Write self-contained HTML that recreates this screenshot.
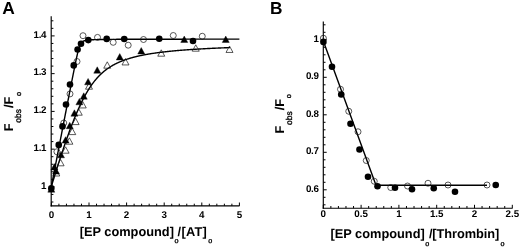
<!DOCTYPE html>
<html><head><meta charset="utf-8"><title>Figure</title>
<style>
html,body{margin:0;padding:0;background:#fff;}
svg{display:block;}
svg text{font-family:'Liberation Sans', Arial, Helvetica, sans-serif;font-weight:bold;fill:#000;text-rendering:geometricPrecision;}
</style></head><body>
<svg width="520" height="249" viewBox="0 0 520 249">
<rect width="520" height="249" fill="#fff"/>
<line x1="51.2" y1="16.2" x2="51.2" y2="206.475" stroke="#000" stroke-width="1.15"/>
<line x1="50.625" y1="205.9" x2="239.5" y2="205.9" stroke="#000" stroke-width="1.15"/>
<line x1="51.2" y1="202.0" x2="53.400000000000006" y2="202.0" stroke="#000" stroke-width="1.0"/>
<line x1="51.2" y1="194.45" x2="53.400000000000006" y2="194.45" stroke="#000" stroke-width="1.0"/>
<line x1="51.2" y1="186.9" x2="54.6" y2="186.9" stroke="#000" stroke-width="1.0"/>
<line x1="51.2" y1="179.35" x2="53.400000000000006" y2="179.35" stroke="#000" stroke-width="1.0"/>
<line x1="51.2" y1="171.8" x2="53.400000000000006" y2="171.8" stroke="#000" stroke-width="1.0"/>
<line x1="51.2" y1="164.25" x2="53.400000000000006" y2="164.25" stroke="#000" stroke-width="1.0"/>
<line x1="51.2" y1="156.7" x2="53.400000000000006" y2="156.7" stroke="#000" stroke-width="1.0"/>
<line x1="51.2" y1="149.15" x2="54.6" y2="149.15" stroke="#000" stroke-width="1.0"/>
<line x1="51.2" y1="141.6" x2="53.400000000000006" y2="141.6" stroke="#000" stroke-width="1.0"/>
<line x1="51.2" y1="134.05" x2="53.400000000000006" y2="134.05" stroke="#000" stroke-width="1.0"/>
<line x1="51.2" y1="126.5" x2="53.400000000000006" y2="126.5" stroke="#000" stroke-width="1.0"/>
<line x1="51.2" y1="118.95" x2="53.400000000000006" y2="118.95" stroke="#000" stroke-width="1.0"/>
<line x1="51.2" y1="111.4" x2="54.6" y2="111.4" stroke="#000" stroke-width="1.0"/>
<line x1="51.2" y1="103.85" x2="53.400000000000006" y2="103.85" stroke="#000" stroke-width="1.0"/>
<line x1="51.2" y1="96.3" x2="53.400000000000006" y2="96.3" stroke="#000" stroke-width="1.0"/>
<line x1="51.2" y1="88.75" x2="53.400000000000006" y2="88.75" stroke="#000" stroke-width="1.0"/>
<line x1="51.2" y1="81.2" x2="53.400000000000006" y2="81.2" stroke="#000" stroke-width="1.0"/>
<line x1="51.2" y1="73.65" x2="54.6" y2="73.65" stroke="#000" stroke-width="1.0"/>
<line x1="51.2" y1="66.1" x2="53.400000000000006" y2="66.1" stroke="#000" stroke-width="1.0"/>
<line x1="51.2" y1="58.55" x2="53.400000000000006" y2="58.55" stroke="#000" stroke-width="1.0"/>
<line x1="51.2" y1="51.0" x2="53.400000000000006" y2="51.0" stroke="#000" stroke-width="1.0"/>
<line x1="51.2" y1="43.45" x2="53.400000000000006" y2="43.45" stroke="#000" stroke-width="1.0"/>
<line x1="51.2" y1="35.9" x2="54.6" y2="35.9" stroke="#000" stroke-width="1.0"/>
<line x1="51.2" y1="28.35" x2="53.400000000000006" y2="28.35" stroke="#000" stroke-width="1.0"/>
<line x1="51.2" y1="20.8" x2="53.400000000000006" y2="20.8" stroke="#000" stroke-width="1.0"/>
<text x="46.2" y="188.5" font-size="9.8" text-anchor="end" letter-spacing="-0.35">1</text>
<text x="46.2" y="150.75" font-size="9.8" text-anchor="end" letter-spacing="-0.35">1.1</text>
<text x="46.2" y="113.0" font-size="9.8" text-anchor="end" letter-spacing="-0.35">1.2</text>
<text x="46.2" y="75.25" font-size="9.8" text-anchor="end" letter-spacing="-0.35">1.3</text>
<text x="46.2" y="37.5" font-size="9.8" text-anchor="end" letter-spacing="-0.35">1.4</text>
<line x1="51.4" y1="205.9" x2="51.4" y2="202.5" stroke="#000" stroke-width="1.0"/>
<line x1="58.92" y1="205.9" x2="58.92" y2="203.70000000000002" stroke="#000" stroke-width="1.0"/>
<line x1="66.44" y1="205.9" x2="66.44" y2="203.70000000000002" stroke="#000" stroke-width="1.0"/>
<line x1="73.96" y1="205.9" x2="73.96" y2="203.70000000000002" stroke="#000" stroke-width="1.0"/>
<line x1="81.48" y1="205.9" x2="81.48" y2="203.70000000000002" stroke="#000" stroke-width="1.0"/>
<line x1="89.0" y1="205.9" x2="89.0" y2="202.5" stroke="#000" stroke-width="1.0"/>
<line x1="96.52" y1="205.9" x2="96.52" y2="203.70000000000002" stroke="#000" stroke-width="1.0"/>
<line x1="104.04" y1="205.9" x2="104.04" y2="203.70000000000002" stroke="#000" stroke-width="1.0"/>
<line x1="111.56" y1="205.9" x2="111.56" y2="203.70000000000002" stroke="#000" stroke-width="1.0"/>
<line x1="119.08" y1="205.9" x2="119.08" y2="203.70000000000002" stroke="#000" stroke-width="1.0"/>
<line x1="126.6" y1="205.9" x2="126.6" y2="202.5" stroke="#000" stroke-width="1.0"/>
<line x1="134.12" y1="205.9" x2="134.12" y2="203.70000000000002" stroke="#000" stroke-width="1.0"/>
<line x1="141.64" y1="205.9" x2="141.64" y2="203.70000000000002" stroke="#000" stroke-width="1.0"/>
<line x1="149.16" y1="205.9" x2="149.16" y2="203.70000000000002" stroke="#000" stroke-width="1.0"/>
<line x1="156.68" y1="205.9" x2="156.68" y2="203.70000000000002" stroke="#000" stroke-width="1.0"/>
<line x1="164.2" y1="205.9" x2="164.2" y2="202.5" stroke="#000" stroke-width="1.0"/>
<line x1="171.72" y1="205.9" x2="171.72" y2="203.70000000000002" stroke="#000" stroke-width="1.0"/>
<line x1="179.24" y1="205.9" x2="179.24" y2="203.70000000000002" stroke="#000" stroke-width="1.0"/>
<line x1="186.76" y1="205.9" x2="186.76" y2="203.70000000000002" stroke="#000" stroke-width="1.0"/>
<line x1="194.28" y1="205.9" x2="194.28" y2="203.70000000000002" stroke="#000" stroke-width="1.0"/>
<line x1="201.8" y1="205.9" x2="201.8" y2="202.5" stroke="#000" stroke-width="1.0"/>
<line x1="209.32" y1="205.9" x2="209.32" y2="203.70000000000002" stroke="#000" stroke-width="1.0"/>
<line x1="216.84" y1="205.9" x2="216.84" y2="203.70000000000002" stroke="#000" stroke-width="1.0"/>
<line x1="224.36" y1="205.9" x2="224.36" y2="203.70000000000002" stroke="#000" stroke-width="1.0"/>
<line x1="231.88" y1="205.9" x2="231.88" y2="203.70000000000002" stroke="#000" stroke-width="1.0"/>
<line x1="239.4" y1="205.9" x2="239.4" y2="202.5" stroke="#000" stroke-width="1.0"/>
<text x="51.4" y="217.6" font-size="9.8" text-anchor="middle" >0</text>
<text x="89.0" y="217.6" font-size="9.8" text-anchor="middle" >1</text>
<text x="126.6" y="217.6" font-size="9.8" text-anchor="middle" >2</text>
<text x="164.2" y="217.6" font-size="9.8" text-anchor="middle" >3</text>
<text x="201.8" y="217.6" font-size="9.8" text-anchor="middle" >4</text>
<text x="239.4" y="217.6" font-size="9.8" text-anchor="middle" >5</text>
<path d="M51.40,186.30 L51.78,184.35 L52.15,182.41 L52.53,180.46 L52.90,178.52 L53.28,176.57 L53.66,174.63 L54.03,172.68 L54.41,170.74 L54.78,168.79 L55.16,166.85 L55.54,164.90 L55.91,162.96 L56.29,161.01 L56.66,159.07 L57.04,157.13 L57.42,155.18 L57.79,153.24 L58.17,151.30 L58.54,149.35 L58.92,147.41 L59.30,145.47 L59.67,143.53 L60.05,141.58 L60.42,139.64 L60.80,137.70 L61.18,135.76 L61.55,133.82 L61.93,131.88 L62.30,129.94 L62.68,128.00 L63.06,126.06 L63.43,124.12 L63.81,122.19 L64.18,120.25 L64.56,118.31 L64.94,116.38 L65.31,114.44 L65.69,112.51 L66.06,110.57 L66.44,108.64 L66.82,106.71 L67.19,104.78 L67.57,102.85 L67.94,100.92 L68.32,98.99 L68.70,97.07 L69.07,95.14 L69.45,93.22 L69.82,91.30 L70.20,89.38 L70.58,87.47 L70.95,85.55 L71.33,83.64 L71.70,81.74 L72.08,79.83 L72.46,77.94 L72.83,76.04 L73.21,74.16 L73.58,72.28 L73.96,70.41 L74.34,68.54 L74.71,66.69 L75.09,64.86 L75.46,63.03 L75.84,61.23 L76.22,59.45 L76.59,57.70 L76.97,55.99 L77.34,54.32 L77.72,52.71 L78.10,51.17 L78.47,49.71 L78.85,48.36 L79.22,47.12 L79.60,46.03 L79.98,45.08 L80.35,44.26 L80.73,43.58 L81.10,43.02 L81.48,42.56 L81.86,42.17 L82.23,41.85 L82.61,41.59 L82.98,41.36 L83.36,41.17 L83.74,41.01 L84.11,40.87 L84.49,40.74 L84.86,40.64 L85.24,40.54 L85.62,40.46 L85.99,40.38 L86.37,40.31 L86.74,40.25 L87.12,40.20 L87.50,40.15 L87.87,40.10 L88.25,40.06 L88.62,40.02 L89.00,39.98 L89.38,39.95 L89.75,39.92 L90.13,39.89 L90.50,39.86 L90.88,39.84 L91.26,39.81 L91.63,39.79 L92.01,39.77 L92.38,39.75 L92.76,39.73 L93.14,39.71 L93.51,39.70 L93.89,39.68 L94.26,39.67 L94.64,39.65 L95.02,39.64 L95.39,39.63 L95.77,39.61 L96.14,39.60 L96.52,39.59 L96.90,39.58 L97.27,39.57 L97.65,39.56 L98.02,39.55 L98.40,39.54 L98.78,39.53 L99.15,39.52 L99.53,39.52 L99.90,39.51 L100.28,39.50 L100.66,39.49 L101.03,39.49 L101.41,39.48 L101.78,39.47 L102.16,39.47 L102.54,39.46 L102.91,39.46 L103.29,39.45 L103.66,39.44 L104.04,39.44 L104.42,39.43 L104.79,39.43 L105.17,39.42 L105.54,39.42 L105.92,39.41 L106.30,39.41 L106.67,39.41 L107.05,39.40 L107.42,39.40 L107.80,39.39 L108.18,39.39 L108.55,39.39 L108.93,39.38 L109.30,39.38 L109.68,39.37 L110.06,39.37 L110.43,39.37 L110.81,39.36 L111.18,39.36 L111.56,39.36 L111.94,39.36 L112.31,39.35 L112.69,39.35 L113.06,39.35 L113.44,39.34 L113.82,39.34 L114.19,39.34 L114.57,39.34 L114.94,39.33 L115.32,39.33 L115.70,39.33 L116.07,39.33 L116.45,39.32 L116.82,39.32 L117.20,39.32 L117.58,39.32 L117.95,39.31 L118.33,39.31 L118.70,39.31 L119.08,39.31 L119.46,39.31 L119.83,39.30 L120.21,39.30 L120.58,39.30 L120.96,39.30 L121.34,39.30 L121.71,39.29 L122.09,39.29 L122.46,39.29 L122.84,39.29 L123.22,39.29 L123.59,39.29 L123.97,39.28 L124.34,39.28 L124.72,39.28 L125.10,39.28 L125.47,39.28 L125.85,39.28 L126.22,39.28 L126.60,39.27 L126.98,39.27 L127.35,39.27 L127.73,39.27 L128.10,39.27 L128.48,39.27 L128.86,39.27 L129.23,39.26 L129.61,39.26 L129.98,39.26 L130.36,39.26 L130.74,39.26 L131.11,39.26 L131.49,39.26 L131.86,39.26 L132.24,39.26 L132.62,39.25 L132.99,39.25 L133.37,39.25 L133.74,39.25 L134.12,39.25 L134.50,39.25 L134.87,39.25 L135.25,39.25 L135.62,39.25 L136.00,39.24 L136.38,39.24 L136.75,39.24 L137.13,39.24 L137.50,39.24 L137.88,39.24 L138.26,39.24 L138.63,39.24 L139.01,39.24 L139.38,39.24 L139.76,39.24 L140.14,39.23 L140.51,39.23 L140.89,39.23 L141.26,39.23 L141.64,39.23 L142.02,39.23 L142.39,39.23 L142.77,39.23 L143.14,39.23 L143.52,39.23 L143.90,39.23 L144.27,39.23 L144.65,39.22 L145.02,39.22 L145.40,39.22 L145.78,39.22 L146.15,39.22 L146.53,39.22 L146.90,39.22 L147.28,39.22 L147.66,39.22 L148.03,39.22 L148.41,39.22 L148.78,39.22 L149.16,39.22 L149.54,39.22 L149.91,39.22 L150.29,39.21 L150.66,39.21 L151.04,39.21 L151.42,39.21 L151.79,39.21 L152.17,39.21 L152.54,39.21 L152.92,39.21 L153.30,39.21 L153.67,39.21 L154.05,39.21 L154.42,39.21 L154.80,39.21 L155.18,39.21 L155.55,39.21 L155.93,39.21 L156.30,39.21 L156.68,39.20 L157.06,39.20 L157.43,39.20 L157.81,39.20 L158.18,39.20 L158.56,39.20 L158.94,39.20 L159.31,39.20 L159.69,39.20 L160.06,39.20 L160.44,39.20 L160.82,39.20 L161.19,39.20 L161.57,39.20 L161.94,39.20 L162.32,39.20 L162.70,39.20 L163.07,39.20 L163.45,39.20 L163.82,39.20 L164.20,39.19 L164.58,39.19 L164.95,39.19 L165.33,39.19 L165.70,39.19 L166.08,39.19 L166.46,39.19 L166.83,39.19 L167.21,39.19 L167.58,39.19 L167.96,39.19 L168.34,39.19 L168.71,39.19 L169.09,39.19 L169.46,39.19 L169.84,39.19 L170.22,39.19 L170.59,39.19 L170.97,39.19 L171.34,39.19 L171.72,39.19 L172.10,39.19 L172.47,39.19 L172.85,39.19 L173.22,39.19 L173.60,39.19 L173.98,39.18 L174.35,39.18 L174.73,39.18 L175.10,39.18 L175.48,39.18 L175.86,39.18 L176.23,39.18 L176.61,39.18 L176.98,39.18 L177.36,39.18 L177.74,39.18 L178.11,39.18 L178.49,39.18 L178.86,39.18 L179.24,39.18 L179.62,39.18 L179.99,39.18 L180.37,39.18 L180.74,39.18 L181.12,39.18 L181.50,39.18 L181.87,39.18 L182.25,39.18 L182.62,39.18 L183.00,39.18 L183.38,39.18 L183.75,39.18 L184.13,39.18 L184.50,39.18 L184.88,39.18 L185.26,39.18 L185.63,39.17 L186.01,39.17 L186.38,39.17 L186.76,39.17 L187.14,39.17 L187.51,39.17 L187.89,39.17 L188.26,39.17 L188.64,39.17 L189.02,39.17 L189.39,39.17 L189.77,39.17 L190.14,39.17 L190.52,39.17 L190.90,39.17 L191.27,39.17 L191.65,39.17 L192.02,39.17 L192.40,39.17 L192.78,39.17 L193.15,39.17 L193.53,39.17 L193.90,39.17 L194.28,39.17 L194.66,39.17 L195.03,39.17 L195.41,39.17 L195.78,39.17 L196.16,39.17 L196.54,39.17 L196.91,39.17 L197.29,39.17 L197.66,39.17 L198.04,39.17 L198.42,39.17 L198.79,39.17 L199.17,39.17 L199.54,39.17 L199.92,39.17 L200.30,39.17 L200.67,39.17 L201.05,39.16 L201.42,39.16 L201.80,39.16 L202.18,39.16 L202.55,39.16 L202.93,39.16 L203.30,39.16 L203.68,39.16 L204.06,39.16 L204.43,39.16 L204.81,39.16 L205.18,39.16 L205.56,39.16 L205.94,39.16 L206.31,39.16 L206.69,39.16 L207.06,39.16 L207.44,39.16 L207.82,39.16 L208.19,39.16 L208.57,39.16 L208.94,39.16 L209.32,39.16 L209.70,39.16 L210.07,39.16 L210.45,39.16 L210.82,39.16 L211.20,39.16 L211.58,39.16 L211.95,39.16 L212.33,39.16 L212.70,39.16 L213.08,39.16 L213.46,39.16 L213.83,39.16 L214.21,39.16 L214.58,39.16 L214.96,39.16 L215.34,39.16 L215.71,39.16 L216.09,39.16 L216.46,39.16 L216.84,39.16 L217.22,39.16 L217.59,39.16 L217.97,39.16 L218.34,39.16 L218.72,39.16 L219.10,39.16 L219.47,39.16 L219.85,39.16 L220.22,39.16 L220.60,39.16 L220.98,39.16 L221.35,39.16 L221.73,39.15 L222.10,39.15 L222.48,39.15 L222.86,39.15 L223.23,39.15 L223.61,39.15 L223.98,39.15 L224.36,39.15 L224.74,39.15 L225.11,39.15 L225.49,39.15 L225.86,39.15 L226.24,39.15 L226.62,39.15 L226.99,39.15 L227.37,39.15 L227.74,39.15 L228.12,39.15 L228.50,39.15 L228.87,39.15 L229.25,39.15 L229.62,39.15 L230.00,39.15 L230.38,39.15 L230.75,39.15 L231.13,39.15 L231.50,39.15 L231.88,39.15 L232.26,39.15 L232.63,39.15 L233.01,39.15 L233.38,39.15 L233.76,39.15 L234.14,39.15 L234.51,39.15 L234.89,39.15 L235.26,39.15 L235.64,39.15 L236.02,39.15 L236.39,39.15 L236.77,39.15 L237.14,39.15 L237.52,39.15 L237.90,39.15 L238.27,39.15 L238.65,39.15 L239.02,39.15 L239.40,39.15" fill="none" stroke="#000" stroke-width="1.4"/>
<path d="M51.40,186.30 L51.78,185.07 L52.15,183.83 L52.53,182.60 L52.90,181.38 L53.28,180.16 L53.66,178.94 L54.03,177.72 L54.41,176.50 L54.78,175.29 L55.16,174.09 L55.54,172.88 L55.91,171.68 L56.29,170.48 L56.66,169.29 L57.04,168.10 L57.42,166.91 L57.79,165.73 L58.17,164.55 L58.54,163.37 L58.92,162.20 L59.30,161.04 L59.67,159.87 L60.05,158.71 L60.42,157.56 L60.80,156.41 L61.18,155.26 L61.55,154.12 L61.93,152.98 L62.30,151.85 L62.68,150.72 L63.06,149.60 L63.43,148.48 L63.81,147.36 L64.18,146.26 L64.56,145.15 L64.94,144.06 L65.31,142.96 L65.69,141.88 L66.06,140.79 L66.44,139.72 L66.82,138.65 L67.19,137.58 L67.57,136.53 L67.94,135.47 L68.32,134.43 L68.70,133.39 L69.07,132.35 L69.45,131.33 L69.82,130.31 L70.20,129.29 L70.58,128.29 L70.95,127.29 L71.33,126.29 L71.70,125.31 L72.08,124.33 L72.46,123.35 L72.83,122.39 L73.21,121.43 L73.58,120.48 L73.96,119.54 L74.34,118.60 L74.71,117.68 L75.09,116.76 L75.46,115.85 L75.84,114.94 L76.22,114.05 L76.59,113.16 L76.97,112.29 L77.34,111.42 L77.72,110.55 L78.10,109.70 L78.47,108.86 L78.85,108.02 L79.22,107.19 L79.60,106.37 L79.98,105.56 L80.35,104.76 L80.73,103.97 L81.10,103.19 L81.48,102.41 L81.86,101.65 L82.23,100.89 L82.61,100.15 L82.98,99.41 L83.36,98.68 L83.74,97.96 L84.11,97.25 L84.49,96.55 L84.86,95.85 L85.24,95.17 L85.62,94.49 L85.99,93.83 L86.37,93.17 L86.74,92.52 L87.12,91.89 L87.50,91.26 L87.87,90.64 L88.25,90.02 L88.62,89.42 L89.00,88.83 L89.38,88.24 L89.75,87.66 L90.13,87.09 L90.50,86.53 L90.88,85.98 L91.26,85.44 L91.63,84.90 L92.01,84.38 L92.38,83.86 L92.76,83.35 L93.14,82.85 L93.51,82.35 L93.89,81.87 L94.26,81.39 L94.64,80.92 L95.02,80.45 L95.39,79.99 L95.77,79.55 L96.14,79.10 L96.52,78.67 L96.90,78.24 L97.27,77.82 L97.65,77.41 L98.02,77.00 L98.40,76.60 L98.78,76.21 L99.15,75.82 L99.53,75.44 L99.90,75.06 L100.28,74.70 L100.66,74.33 L101.03,73.98 L101.41,73.63 L101.78,73.28 L102.16,72.94 L102.54,72.61 L102.91,72.28 L103.29,71.96 L103.66,71.64 L104.04,71.33 L104.42,71.02 L104.79,70.72 L105.17,70.42 L105.54,70.13 L105.92,69.85 L106.30,69.56 L106.67,69.28 L107.05,69.01 L107.42,68.74 L107.80,68.48 L108.18,68.22 L108.55,67.96 L108.93,67.71 L109.30,67.46 L109.68,67.21 L110.06,66.97 L110.43,66.74 L110.81,66.51 L111.18,66.28 L111.56,66.05 L111.94,65.83 L112.31,65.61 L112.69,65.39 L113.06,65.18 L113.44,64.97 L113.82,64.77 L114.19,64.57 L114.57,64.37 L114.94,64.17 L115.32,63.98 L115.70,63.79 L116.07,63.60 L116.45,63.41 L116.82,63.23 L117.20,63.05 L117.58,62.88 L117.95,62.70 L118.33,62.53 L118.70,62.36 L119.08,62.19 L119.46,62.03 L119.83,61.87 L120.21,61.71 L120.58,61.55 L120.96,61.40 L121.34,61.24 L121.71,61.09 L122.09,60.94 L122.46,60.80 L122.84,60.65 L123.22,60.51 L123.59,60.37 L123.97,60.23 L124.34,60.09 L124.72,59.96 L125.10,59.83 L125.47,59.70 L125.85,59.57 L126.22,59.44 L126.60,59.31 L126.98,59.19 L127.35,59.06 L127.73,58.94 L128.10,58.82 L128.48,58.71 L128.86,58.59 L129.23,58.47 L129.61,58.36 L129.98,58.25 L130.36,58.14 L130.74,58.03 L131.11,57.92 L131.49,57.81 L131.86,57.71 L132.24,57.60 L132.62,57.50 L132.99,57.40 L133.37,57.30 L133.74,57.20 L134.12,57.10 L134.50,57.00 L134.87,56.91 L135.25,56.81 L135.62,56.72 L136.00,56.63 L136.38,56.54 L136.75,56.45 L137.13,56.36 L137.50,56.27 L137.88,56.18 L138.26,56.10 L138.63,56.01 L139.01,55.93 L139.38,55.85 L139.76,55.76 L140.14,55.68 L140.51,55.60 L140.89,55.52 L141.26,55.44 L141.64,55.37 L142.02,55.29 L142.39,55.21 L142.77,55.14 L143.14,55.06 L143.52,54.99 L143.90,54.92 L144.27,54.85 L144.65,54.77 L145.02,54.70 L145.40,54.63 L145.78,54.56 L146.15,54.50 L146.53,54.43 L146.90,54.36 L147.28,54.30 L147.66,54.23 L148.03,54.17 L148.41,54.10 L148.78,54.04 L149.16,53.97 L149.54,53.91 L149.91,53.85 L150.29,53.79 L150.66,53.73 L151.04,53.67 L151.42,53.61 L151.79,53.55 L152.17,53.49 L152.54,53.43 L152.92,53.38 L153.30,53.32 L153.67,53.27 L154.05,53.21 L154.42,53.16 L154.80,53.10 L155.18,53.05 L155.55,52.99 L155.93,52.94 L156.30,52.89 L156.68,52.84 L157.06,52.78 L157.43,52.73 L157.81,52.68 L158.18,52.63 L158.56,52.58 L158.94,52.53 L159.31,52.49 L159.69,52.44 L160.06,52.39 L160.44,52.34 L160.82,52.30 L161.19,52.25 L161.57,52.20 L161.94,52.16 L162.32,52.11 L162.70,52.07 L163.07,52.02 L163.45,51.98 L163.82,51.93 L164.20,51.89 L164.58,51.85 L164.95,51.81 L165.33,51.76 L165.70,51.72 L166.08,51.68 L166.46,51.64 L166.83,51.60 L167.21,51.56 L167.58,51.52 L167.96,51.48 L168.34,51.44 L168.71,51.40 L169.09,51.36 L169.46,51.32 L169.84,51.28 L170.22,51.24 L170.59,51.21 L170.97,51.17 L171.34,51.13 L171.72,51.09 L172.10,51.06 L172.47,51.02 L172.85,50.99 L173.22,50.95 L173.60,50.91 L173.98,50.88 L174.35,50.84 L174.73,50.81 L175.10,50.78 L175.48,50.74 L175.86,50.71 L176.23,50.67 L176.61,50.64 L176.98,50.61 L177.36,50.57 L177.74,50.54 L178.11,50.51 L178.49,50.48 L178.86,50.45 L179.24,50.41 L179.62,50.38 L179.99,50.35 L180.37,50.32 L180.74,50.29 L181.12,50.26 L181.50,50.23 L181.87,50.20 L182.25,50.17 L182.62,50.14 L183.00,50.11 L183.38,50.08 L183.75,50.05 L184.13,50.02 L184.50,49.99 L184.88,49.97 L185.26,49.94 L185.63,49.91 L186.01,49.88 L186.38,49.85 L186.76,49.83 L187.14,49.80 L187.51,49.77 L187.89,49.75 L188.26,49.72 L188.64,49.69 L189.02,49.67 L189.39,49.64 L189.77,49.62 L190.14,49.59 L190.52,49.56 L190.90,49.54 L191.27,49.51 L191.65,49.49 L192.02,49.46 L192.40,49.44 L192.78,49.41 L193.15,49.39 L193.53,49.36 L193.90,49.34 L194.28,49.32 L194.66,49.29 L195.03,49.27 L195.41,49.25 L195.78,49.22 L196.16,49.20 L196.54,49.18 L196.91,49.15 L197.29,49.13 L197.66,49.11 L198.04,49.09 L198.42,49.06 L198.79,49.04 L199.17,49.02 L199.54,49.00 L199.92,48.98 L200.30,48.95 L200.67,48.93 L201.05,48.91 L201.42,48.89 L201.80,48.87 L202.18,48.85 L202.55,48.83 L202.93,48.81 L203.30,48.78 L203.68,48.76 L204.06,48.74 L204.43,48.72 L204.81,48.70 L205.18,48.68 L205.56,48.66 L205.94,48.64 L206.31,48.62 L206.69,48.60 L207.06,48.59 L207.44,48.57 L207.82,48.55 L208.19,48.53 L208.57,48.51 L208.94,48.49 L209.32,48.47 L209.70,48.45 L210.07,48.43 L210.45,48.42 L210.82,48.40 L211.20,48.38 L211.58,48.36 L211.95,48.34 L212.33,48.32 L212.70,48.31 L213.08,48.29 L213.46,48.27 L213.83,48.25 L214.21,48.24 L214.58,48.22 L214.96,48.20 L215.34,48.18 L215.71,48.17 L216.09,48.15 L216.46,48.13 L216.84,48.12 L217.22,48.10 L217.59,48.08 L217.97,48.07 L218.34,48.05 L218.72,48.03 L219.10,48.02 L219.47,48.00 L219.85,47.99 L220.22,47.97 L220.60,47.95 L220.98,47.94 L221.35,47.92 L221.73,47.91 L222.10,47.89 L222.48,47.88 L222.86,47.86 L223.23,47.85 L223.61,47.83 L223.98,47.82 L224.36,47.80 L224.74,47.79 L225.11,47.77 L225.49,47.76 L225.86,47.74 L226.24,47.73 L226.62,47.71 L226.99,47.70 L227.37,47.68 L227.74,47.67 L228.12,47.65 L228.50,47.64 L228.87,47.63 L229.25,47.61 L229.62,47.60 L230.00,47.58" fill="none" stroke="#000" stroke-width="1.4"/>
<polygon points="226.00,52.45 233.00,52.45 229.50,46.05" fill="none" stroke="#111" stroke-width="0.7"/>
<polygon points="192.25,51.20 199.25,51.20 195.75,44.80" fill="none" stroke="#111" stroke-width="0.7"/>
<polygon points="157.75,56.20 164.75,56.20 161.25,49.80" fill="none" stroke="#111" stroke-width="0.7"/>
<polygon points="122.00,64.95 129.00,64.95 125.50,58.55" fill="none" stroke="#111" stroke-width="0.7"/>
<polygon points="103.75,68.20 110.75,68.20 107.25,61.80" fill="none" stroke="#111" stroke-width="0.7"/>
<polygon points="85.50,89.20 92.50,89.20 89.00,82.80" fill="none" stroke="#111" stroke-width="0.7"/>
<polygon points="79.25,107.95 86.25,107.95 82.75,101.55" fill="none" stroke="#111" stroke-width="0.7"/>
<polygon points="75.25,115.20 82.25,115.20 78.75,108.80" fill="none" stroke="#111" stroke-width="0.7"/>
<polygon points="72.10,124.60 79.10,124.60 75.60,118.20" fill="none" stroke="#111" stroke-width="0.7"/>
<polygon points="68.75,134.60 75.75,134.60 72.25,128.20" fill="none" stroke="#111" stroke-width="0.7"/>
<polygon points="65.90,144.20 72.90,144.20 69.40,137.80" fill="none" stroke="#111" stroke-width="0.7"/>
<polygon points="62.10,153.20 69.10,153.20 65.60,146.80" fill="none" stroke="#111" stroke-width="0.7"/>
<polygon points="57.10,165.80 64.10,165.80 60.60,159.40" fill="none" stroke="#111" stroke-width="0.7"/>
<polygon points="52.80,176.00 59.80,176.00 56.30,169.60" fill="none" stroke="#111" stroke-width="0.7"/>
<circle cx="83" cy="35.7" r="3.0" fill="none" stroke="#111" stroke-width="0.7"/>
<circle cx="97.5" cy="37.4" r="3.0" fill="none" stroke="#111" stroke-width="0.7"/>
<circle cx="113.2" cy="42.3" r="3.0" fill="none" stroke="#111" stroke-width="0.7"/>
<circle cx="128.2" cy="45.2" r="3.0" fill="none" stroke="#111" stroke-width="0.7"/>
<circle cx="143.5" cy="39.5" r="3.0" fill="none" stroke="#111" stroke-width="0.7"/>
<circle cx="173.25" cy="35.5" r="3.0" fill="none" stroke="#111" stroke-width="0.7"/>
<circle cx="202.25" cy="36.25" r="3.0" fill="none" stroke="#111" stroke-width="0.7"/>
<circle cx="77" cy="61.5" r="3.0" fill="none" stroke="#111" stroke-width="0.7"/>
<circle cx="70" cy="93.9" r="3.0" fill="none" stroke="#111" stroke-width="0.7"/>
<circle cx="63.75" cy="123" r="3.0" fill="none" stroke="#111" stroke-width="0.7"/>
<circle cx="56.9" cy="151.75" r="3.0" fill="none" stroke="#111" stroke-width="0.7"/>
<polygon points="222.25,42.45 229.25,42.45 225.75,36.05" fill="#000" stroke="#000" stroke-width="0.4"/>
<polygon points="180.75,42.45 187.75,42.45 184.25,36.05" fill="#000" stroke="#000" stroke-width="0.4"/>
<polygon points="137.75,53.95 144.75,53.95 141.25,47.55" fill="#000" stroke="#000" stroke-width="0.4"/>
<polygon points="116.25,59.95 123.25,59.95 119.75,53.55" fill="#000" stroke="#000" stroke-width="0.4"/>
<polygon points="93.75,73.20 100.75,73.20 97.25,66.80" fill="#000" stroke="#000" stroke-width="0.4"/>
<polygon points="84.60,84.80 91.60,84.80 88.10,78.40" fill="#000" stroke="#000" stroke-width="0.4"/>
<polygon points="80.25,99.20 87.25,99.20 83.75,92.80" fill="#000" stroke="#000" stroke-width="0.4"/>
<polygon points="75.90,104.80 82.90,104.80 79.40,98.40" fill="#000" stroke="#000" stroke-width="0.4"/>
<polygon points="70.90,116.20 77.90,116.20 74.40,109.80" fill="#000" stroke="#000" stroke-width="0.4"/>
<polygon points="66.25,128.70 73.25,128.70 69.75,122.30" fill="#000" stroke="#000" stroke-width="0.4"/>
<polygon points="62.10,143.10 69.10,143.10 65.60,136.70" fill="#000" stroke="#000" stroke-width="0.4"/>
<polygon points="57.50,157.80 64.50,157.80 61.00,151.40" fill="#000" stroke="#000" stroke-width="0.4"/>
<polygon points="52.50,174.10 59.50,174.10 56.00,167.70" fill="#000" stroke="#000" stroke-width="0.4"/>
<polygon points="50.90,170.00 57.90,170.00 54.40,163.60" fill="#000" stroke="#000" stroke-width="0.4"/>
<polygon points="47.80,192.20 54.80,192.20 51.30,185.80" fill="#000" stroke="#000" stroke-width="0.4"/>
<circle cx="88.3" cy="40.1" r="3.3" fill="#000"/>
<circle cx="81" cy="43.8" r="3.3" fill="#000"/>
<circle cx="77.6" cy="49.5" r="3.3" fill="#000"/>
<circle cx="106.7" cy="38.9" r="3.3" fill="#000"/>
<circle cx="124.25" cy="39" r="3.3" fill="#000"/>
<circle cx="159.25" cy="38.75" r="3.3" fill="#000"/>
<circle cx="193" cy="41" r="3.3" fill="#000"/>
<circle cx="73.75" cy="65.4" r="3.3" fill="#000"/>
<circle cx="70" cy="84.5" r="3.3" fill="#000"/>
<circle cx="66" cy="104.5" r="3.3" fill="#000"/>
<circle cx="62.5" cy="126.4" r="3.3" fill="#000"/>
<circle cx="58.75" cy="144.9" r="3.3" fill="#000"/>
<circle cx="51.3" cy="188.4" r="3.3" fill="#000"/>
<text x="2.3" y="14.4" font-size="17.4" text-anchor="start" >A</text>
<text x="126.8" y="235.5" font-size="12.8" text-anchor="middle" >[EP compound]</text>
<text x="176.5" y="243.2" font-size="7.2" text-anchor="middle" style="font-weight:normal" stroke="#000" stroke-width="0.35">o</text>
<text x="177.6" y="235.5" font-size="12.8" text-anchor="start" letter-spacing="0.25">/[AT]</text>
<text x="210.2" y="243.2" font-size="7.2" text-anchor="middle" style="font-weight:normal" stroke="#000" stroke-width="0.35">o</text>
<g transform="translate(13.1,131.2) rotate(-90)">
<text x="0" y="0" font-size="12.8" text-anchor="start" >F</text>
<text x="8.4" y="7.8" font-size="8.5" text-anchor="start" style="font-weight:normal" stroke="#000" stroke-width="0.35">obs</text>
<text x="23.1" y="0" font-size="12.8" text-anchor="start" >/F</text>
<text x="37.2" y="7.6" font-size="7.4" text-anchor="middle" style="font-weight:normal" stroke="#000" stroke-width="0.35">o</text>
</g>
<line x1="323.3" y1="21.5" x2="323.3" y2="208.77499999999998" stroke="#000" stroke-width="1.15"/>
<line x1="322.725" y1="208.2" x2="512.6" y2="208.2" stroke="#000" stroke-width="1.15"/>
<line x1="323.3" y1="24.8" x2="325.5" y2="24.8" stroke="#000" stroke-width="1.0"/>
<line x1="323.3" y1="32.3" x2="325.5" y2="32.3" stroke="#000" stroke-width="1.0"/>
<line x1="323.3" y1="39.8" x2="326.7" y2="39.8" stroke="#000" stroke-width="1.0"/>
<line x1="323.3" y1="47.3" x2="325.5" y2="47.3" stroke="#000" stroke-width="1.0"/>
<line x1="323.3" y1="54.8" x2="325.5" y2="54.8" stroke="#000" stroke-width="1.0"/>
<line x1="323.3" y1="62.3" x2="325.5" y2="62.3" stroke="#000" stroke-width="1.0"/>
<line x1="323.3" y1="69.8" x2="325.5" y2="69.8" stroke="#000" stroke-width="1.0"/>
<line x1="323.3" y1="77.3" x2="326.7" y2="77.3" stroke="#000" stroke-width="1.0"/>
<line x1="323.3" y1="84.8" x2="325.5" y2="84.8" stroke="#000" stroke-width="1.0"/>
<line x1="323.3" y1="92.3" x2="325.5" y2="92.3" stroke="#000" stroke-width="1.0"/>
<line x1="323.3" y1="99.8" x2="325.5" y2="99.8" stroke="#000" stroke-width="1.0"/>
<line x1="323.3" y1="107.3" x2="325.5" y2="107.3" stroke="#000" stroke-width="1.0"/>
<line x1="323.3" y1="114.8" x2="326.7" y2="114.8" stroke="#000" stroke-width="1.0"/>
<line x1="323.3" y1="122.3" x2="325.5" y2="122.3" stroke="#000" stroke-width="1.0"/>
<line x1="323.3" y1="129.8" x2="325.5" y2="129.8" stroke="#000" stroke-width="1.0"/>
<line x1="323.3" y1="137.3" x2="325.5" y2="137.3" stroke="#000" stroke-width="1.0"/>
<line x1="323.3" y1="144.8" x2="325.5" y2="144.8" stroke="#000" stroke-width="1.0"/>
<line x1="323.3" y1="152.3" x2="326.7" y2="152.3" stroke="#000" stroke-width="1.0"/>
<line x1="323.3" y1="159.8" x2="325.5" y2="159.8" stroke="#000" stroke-width="1.0"/>
<line x1="323.3" y1="167.3" x2="325.5" y2="167.3" stroke="#000" stroke-width="1.0"/>
<line x1="323.3" y1="174.8" x2="325.5" y2="174.8" stroke="#000" stroke-width="1.0"/>
<line x1="323.3" y1="182.3" x2="325.5" y2="182.3" stroke="#000" stroke-width="1.0"/>
<line x1="323.3" y1="189.8" x2="326.7" y2="189.8" stroke="#000" stroke-width="1.0"/>
<line x1="323.3" y1="197.3" x2="325.5" y2="197.3" stroke="#000" stroke-width="1.0"/>
<line x1="323.3" y1="204.8" x2="325.5" y2="204.8" stroke="#000" stroke-width="1.0"/>
<text x="318.6" y="41.5" font-size="9.8" text-anchor="end" letter-spacing="-0.35">1</text>
<text x="318.6" y="79.0" font-size="9.8" text-anchor="end" letter-spacing="-0.35">0.9</text>
<text x="318.6" y="116.5" font-size="9.8" text-anchor="end" letter-spacing="-0.35">0.8</text>
<text x="318.6" y="154.0" font-size="9.8" text-anchor="end" letter-spacing="-0.35">0.7</text>
<text x="318.6" y="191.5" font-size="9.8" text-anchor="end" letter-spacing="-0.35">0.6</text>
<line x1="323.3" y1="208.2" x2="323.3" y2="204.79999999999998" stroke="#000" stroke-width="1.0"/>
<line x1="330.86" y1="208.2" x2="330.86" y2="206.0" stroke="#000" stroke-width="1.0"/>
<line x1="338.42" y1="208.2" x2="338.42" y2="206.0" stroke="#000" stroke-width="1.0"/>
<line x1="345.98" y1="208.2" x2="345.98" y2="206.0" stroke="#000" stroke-width="1.0"/>
<line x1="353.54" y1="208.2" x2="353.54" y2="206.0" stroke="#000" stroke-width="1.0"/>
<line x1="361.1" y1="208.2" x2="361.1" y2="204.79999999999998" stroke="#000" stroke-width="1.0"/>
<line x1="368.66" y1="208.2" x2="368.66" y2="206.0" stroke="#000" stroke-width="1.0"/>
<line x1="376.22" y1="208.2" x2="376.22" y2="206.0" stroke="#000" stroke-width="1.0"/>
<line x1="383.78" y1="208.2" x2="383.78" y2="206.0" stroke="#000" stroke-width="1.0"/>
<line x1="391.34" y1="208.2" x2="391.34" y2="206.0" stroke="#000" stroke-width="1.0"/>
<line x1="398.9" y1="208.2" x2="398.9" y2="204.79999999999998" stroke="#000" stroke-width="1.0"/>
<line x1="406.46" y1="208.2" x2="406.46" y2="206.0" stroke="#000" stroke-width="1.0"/>
<line x1="414.02" y1="208.2" x2="414.02" y2="206.0" stroke="#000" stroke-width="1.0"/>
<line x1="421.58" y1="208.2" x2="421.58" y2="206.0" stroke="#000" stroke-width="1.0"/>
<line x1="429.14" y1="208.2" x2="429.14" y2="206.0" stroke="#000" stroke-width="1.0"/>
<line x1="436.7" y1="208.2" x2="436.7" y2="204.79999999999998" stroke="#000" stroke-width="1.0"/>
<line x1="444.26" y1="208.2" x2="444.26" y2="206.0" stroke="#000" stroke-width="1.0"/>
<line x1="451.82" y1="208.2" x2="451.82" y2="206.0" stroke="#000" stroke-width="1.0"/>
<line x1="459.38" y1="208.2" x2="459.38" y2="206.0" stroke="#000" stroke-width="1.0"/>
<line x1="466.94" y1="208.2" x2="466.94" y2="206.0" stroke="#000" stroke-width="1.0"/>
<line x1="474.5" y1="208.2" x2="474.5" y2="204.79999999999998" stroke="#000" stroke-width="1.0"/>
<line x1="482.06" y1="208.2" x2="482.06" y2="206.0" stroke="#000" stroke-width="1.0"/>
<line x1="489.62" y1="208.2" x2="489.62" y2="206.0" stroke="#000" stroke-width="1.0"/>
<line x1="497.18" y1="208.2" x2="497.18" y2="206.0" stroke="#000" stroke-width="1.0"/>
<line x1="504.74" y1="208.2" x2="504.74" y2="206.0" stroke="#000" stroke-width="1.0"/>
<line x1="512.3" y1="208.2" x2="512.3" y2="204.79999999999998" stroke="#000" stroke-width="1.0"/>
<text x="323.3" y="217.3" font-size="9.8" text-anchor="middle" >0</text>
<text x="361.1" y="217.3" font-size="9.8" text-anchor="middle" >0.5</text>
<text x="398.9" y="217.3" font-size="9.8" text-anchor="middle" >1</text>
<text x="436.7" y="217.3" font-size="9.8" text-anchor="middle" >1.5</text>
<text x="474.5" y="217.3" font-size="9.8" text-anchor="middle" >2</text>
<text x="512.3" y="217.3" font-size="9.8" text-anchor="middle" >2.5</text>
<path d="M323.3,41 L376,185.3 L487,185.3" fill="none" stroke="#000" stroke-width="1.4" stroke-linejoin="round"/>
<circle cx="323.4" cy="38.2" r="3.0" fill="none" stroke="#111" stroke-width="0.7"/>
<circle cx="340.5" cy="89.25" r="3.0" fill="none" stroke="#111" stroke-width="0.7"/>
<circle cx="348.75" cy="111.25" r="3.0" fill="none" stroke="#111" stroke-width="0.7"/>
<circle cx="358" cy="131.75" r="3.0" fill="none" stroke="#111" stroke-width="0.7"/>
<circle cx="366.25" cy="160.5" r="3.0" fill="none" stroke="#111" stroke-width="0.7"/>
<circle cx="374.25" cy="181.25" r="3.0" fill="none" stroke="#111" stroke-width="0.7"/>
<circle cx="390.75" cy="187.5" r="3.0" fill="none" stroke="#111" stroke-width="0.7"/>
<circle cx="407.5" cy="186" r="3.0" fill="none" stroke="#111" stroke-width="0.7"/>
<circle cx="428" cy="183.25" r="3.0" fill="none" stroke="#111" stroke-width="0.7"/>
<circle cx="448" cy="185" r="3.0" fill="none" stroke="#111" stroke-width="0.7"/>
<circle cx="487" cy="185" r="3.0" fill="none" stroke="#111" stroke-width="0.7"/>
<circle cx="323.4" cy="41.9" r="3.3" fill="#000"/>
<circle cx="332" cy="66.75" r="3.3" fill="#000"/>
<circle cx="341.25" cy="94.5" r="3.3" fill="#000"/>
<circle cx="350.5" cy="123.75" r="3.3" fill="#000"/>
<circle cx="359.5" cy="149.5" r="3.3" fill="#000"/>
<circle cx="368" cy="176.75" r="3.3" fill="#000"/>
<circle cx="377.5" cy="186.25" r="3.3" fill="#000"/>
<circle cx="395" cy="187.8" r="3.3" fill="#000"/>
<circle cx="412" cy="189.25" r="3.3" fill="#000"/>
<circle cx="433.75" cy="188.25" r="3.3" fill="#000"/>
<circle cx="455" cy="191.75" r="3.3" fill="#000"/>
<circle cx="495.75" cy="185" r="3.3" fill="#000"/>
<text x="270.0" y="14.4" font-size="17.3" text-anchor="start" >B</text>
<text x="377.6" y="238.4" font-size="12.8" text-anchor="middle" >[EP compound]</text>
<text x="427.3" y="246.3" font-size="7.2" text-anchor="middle" style="font-weight:normal" stroke="#000" stroke-width="0.35">o</text>
<text x="428.9" y="238.4" font-size="12.8" text-anchor="start" letter-spacing="-0.08">/[Thrombin]</text>
<text x="502.6" y="246.3" font-size="7.2" text-anchor="middle" style="font-weight:normal" stroke="#000" stroke-width="0.35">o</text>
<g transform="translate(283.8,133.4) rotate(-90)">
<text x="0" y="0" font-size="12.8" text-anchor="start" >F</text>
<text x="8.4" y="7.8" font-size="8.5" text-anchor="start" style="font-weight:normal" stroke="#000" stroke-width="0.35">obs</text>
<text x="23.1" y="0" font-size="12.8" text-anchor="start" >/F</text>
<text x="37.2" y="7.6" font-size="7.4" text-anchor="middle" style="font-weight:normal" stroke="#000" stroke-width="0.35">o</text>
</g>
</svg>
</body></html>
